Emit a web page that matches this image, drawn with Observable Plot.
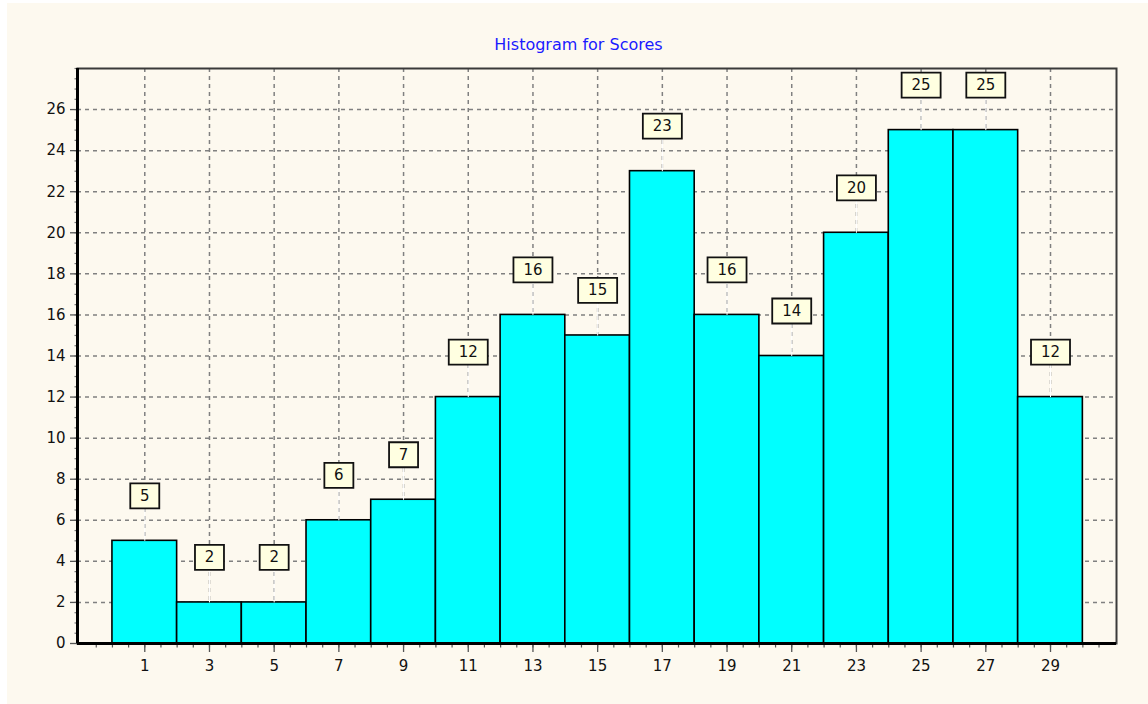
<!DOCTYPE html>
<html>
<head>
<meta charset="utf-8">
<script src="https://cdn.jsdelivr.net/npm/d3@7"></script>
<script src="https://cdn.jsdelivr.net/npm/@observablehq/plot@0.6"></script>
<style>
  html, body { margin: 0; padding: 0; background: #ffffff; }
  #wrap { position: absolute; left: 7px; top: 3px; width: 1141px; height: 701px; background: #fdf9ef; overflow: hidden; }
  #title { height: 25px; padding-top: 32px; text-align: center; font: 16px "DejaVu Sans", Verdana, sans-serif; color: #1a1aff; line-height: 20px; padding-left: 2px; }
  #chart svg { display: block; }
</style>
</head>
<body>
<div id="wrap">
  <div id="title"></div>
  <div id="chart"></div>
</div>
<script>
const chartTitle = "Histogram for Scores";
const bins = [1, 3, 5, 7, 9, 11, 13, 15, 17, 19, 21, 23, 25, 27, 29];
const counts = [5, 2, 2, 6, 7, 12, 16, 15, 23, 16, 14, 20, 25, 25, 12];
const xTicks = [1, 3, 5, 7, 9, 11, 13, 15, 17, 19, 21, 23, 25, 27, 29];
const yTicks = [0, 2, 4, 6, 8, 10, 12, 14, 16, 18, 20, 22, 24, 26];
const binWidth = 2;

document.getElementById("title").textContent = chartTitle;

const data = bins.map((b, i) => ({bin: b, count: counts[i]}));

const boxSymbol = (w) => ({draw(ctx) { ctx.rect(-w / 2, -12.5, w, 25); }});
const leaderSymbol = {draw(ctx) { ctx.moveTo(0, 0); ctx.lineTo(0, -32.5); }};
const vTick = (len) => ({draw(ctx) { ctx.moveTo(0, 0); ctx.lineTo(0, len); }});
const hTick = (len) => ({draw(ctx) { ctx.moveTo(0, 0); ctx.lineTo(-len, 0); }});

const xDomain = [-1.08, 31.04];
const minorX = d3.range(-0.5, 31, 0.5).map(v => ({v}));
const minorY = d3.range(0.5, 28.01, 0.5).map(v => ({v}));
const dash = {stroke: "#808080", strokeOpacity: 1, strokeWidth: 1.5, strokeDasharray: "4 4"};
const font = "'DejaVu Sans', Verdana, sans-serif";

const plot = Plot.plot({
  width: 1141,
  height: 644,
  marginLeft: 70,
  marginRight: 32,
  marginTop: 8,
  marginBottom: 61,
  style: {background: "transparent", fontFamily: font, fontSize: "15px", color: "#000"},
  x: {domain: xDomain, axis: null},
  y: {domain: [0, 28], axis: null},
  marks: [
    Plot.gridX(xTicks, dash),
    Plot.gridY(yTicks.filter(d => d > 0), dash),
    Plot.rect(data, {x1: d => d.bin - binWidth / 2, x2: d => d.bin + binWidth / 2, y1: 0, y2: "count", fill: "#00ffff", stroke: "#000", strokeWidth: 1.6}),
    Plot.dot(data, {x: "bin", y: "count", symbol: leaderSymbol, r: 5, fill: "none", stroke: "#ffffff", strokeWidth: 1}),
    Plot.dot(data.filter(d => d.count < 10), {x: "bin", y: "count", dy: -45, symbol: boxSymbol(29), r: 5, fill: "#ffffe1", stroke: "#111", strokeWidth: 1.8}),
    Plot.dot(data.filter(d => d.count >= 10), {x: "bin", y: "count", dy: -45, symbol: boxSymbol(39), r: 5, fill: "#ffffe1", stroke: "#111", strokeWidth: 1.8}),
    Plot.text(data, {x: "bin", y: "count", dy: -45, text: d => String(d.count), fontSize: 15, fontFamily: font, fill: "#111"}),
    Plot.dot(minorX, {x: "v", y: 0, symbol: vTick(4), r: 5, fill: "none", stroke: "#555", strokeWidth: 1.2}),
    Plot.dot(minorY, {x: xDomain[0], y: "v", symbol: hTick(3), r: 5, fill: "none", stroke: "#777", strokeWidth: 1.2}),
    Plot.axisX({ticks: xTicks, tickSize: 9, tickPadding: 8, fontSize: 15, fontFamily: font, label: null, stroke: "#555", strokeWidth: 1.3, color: "#111"}),
    Plot.axisY({ticks: yTicks, tickSize: 7, tickPadding: 5, fontSize: 15, fontFamily: font, label: null, stroke: "#555", strokeWidth: 1.3, color: "#111"}),
    Plot.frame({stroke: "#3a3a3a", strokeWidth: 2}),
    Plot.ruleX([xDomain[0]], {stroke: "#000", strokeWidth: 3}),
    Plot.ruleY([0], {stroke: "#000", strokeWidth: 3})
  ]
});
document.getElementById("chart").appendChild(plot);
</script>
</body>
</html>
